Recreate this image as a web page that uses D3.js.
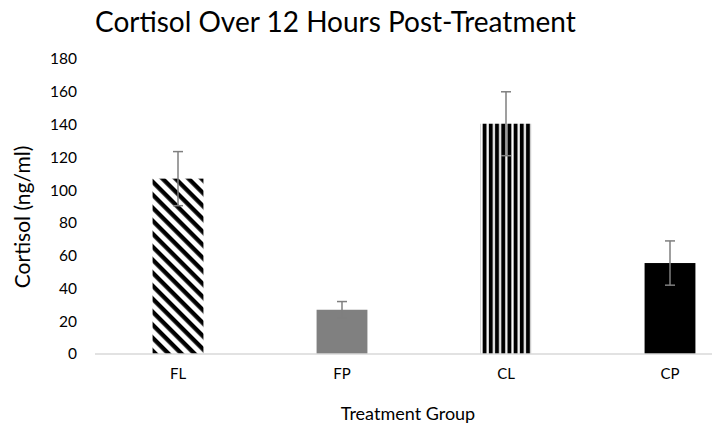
<!DOCTYPE html>
<html>
<head>
<meta charset="utf-8">
<script src="https://cdn.jsdelivr.net/npm/d3@7"></script>
<style>
  html, body { margin: 0; padding: 0; background: #fff; }
  svg { display: block; font-family: Lato, "Open Sans", sans-serif; }
</style>
</head>
<body>
<svg id="chart" width="712" height="425"></svg>
<script>
// Mean cortisol per treatment group, with error bar half-widths
const groups = ["FL", "FP", "CL", "CP"];
const cortisol = [107, 27, 140.5, 55.5];
const errors = [16.5, 5, 19.5, 13.5];
const yTicks = [0, 20, 40, 60, 80, 100, 120, 140, 160, 180];
const fills = ["url(#diag)", "#808080", "url(#vert)", "#000000"];

const svg = d3.select("#chart");

const x = d3.scaleBand().domain(groups).range([96, 752]).paddingInner(0.69).paddingOuter(0.345);
const y = d3.scaleLinear().domain([0, 180]).range([354, 59]);

// fill patterns
const defs = svg.append("defs");
const diag = defs.append("pattern")
  .attr("id", "diag").attr("patternUnits", "userSpaceOnUse")
  .attr("width", 9.2).attr("height", 9.2)
  .attr("patternTransform", "rotate(45)");
diag.append("rect").attr("width", 9.2).attr("height", 9.2).attr("fill", "#fff");
diag.append("rect").attr("x", 0).attr("y", 0).attr("width", 9.2).attr("height", 4.3).attr("fill", "#000");

const vert = defs.append("pattern")
  .attr("id", "vert").attr("patternUnits", "userSpaceOnUse")
  .attr("width", 6.2).attr("height", 10).attr("x", 481);
vert.append("rect").attr("width", 6.2).attr("height", 10).attr("fill", "#fff");
vert.append("rect").attr("x", 1.6).attr("width", 4).attr("height", 10).attr("fill", "#000");

// title
svg.append("text")
  .attr("x", 95).attr("y", 32)
  .attr("font-size", 28).attr("fill", "#000")
  .text("Cortisol Over 12 Hours Post-Treatment");

// y axis (labels only)
const yAxis = d3.axisLeft(y).tickValues(yTicks).tickSize(0).tickPadding(0);
const ya = svg.append("g").attr("transform", "translate(77,0)").call(yAxis);
ya.select(".domain").remove();
ya.selectAll("text").attr("font-size", 15.5).attr("fill", "#000")
  .attr("font-family", "Lato, sans-serif");

// bars
svg.append("g").selectAll("rect").data(groups).join("rect")
  .attr("x", d => x(d))
  .attr("width", x.bandwidth())
  .attr("y", (d, i) => y(cortisol[i]))
  .attr("height", (d, i) => y(0) - y(cortisol[i]))
  .attr("fill", (d, i) => fills[i]);

// x axis baseline and category labels
const xAxis = d3.axisBottom(x).tickSize(0).tickPadding(14);
const xa = svg.append("g").attr("transform", `translate(0,${y(0)})`).call(xAxis);
xa.select(".domain").attr("stroke", "#d9d9d9").attr("stroke-width", 1.5)
  .attr("d", `M95,0H712`);
xa.selectAll("text").attr("font-size", 15).attr("fill", "#000")
  .attr("font-family", "Lato, sans-serif");

// error bars
const eb = svg.append("g").attr("stroke", "#7f7f7f").attr("stroke-width", 1.5);
groups.forEach((g, i) => {
  const cx = x(g) + x.bandwidth() / 2;
  const hi = y(cortisol[i] + errors[i]), lo = y(cortisol[i] - errors[i]);
  eb.append("line").attr("x1", cx).attr("x2", cx).attr("y1", hi).attr("y2", lo);
  eb.append("line").attr("x1", cx - 5).attr("x2", cx + 5).attr("y1", hi).attr("y2", hi);
  eb.append("line").attr("x1", cx - 5).attr("x2", cx + 5).attr("y1", lo).attr("y2", lo);
});

// axis titles
svg.append("text")
  .attr("x", 408).attr("y", 420).attr("text-anchor", "middle")
  .attr("font-size", 18).attr("fill", "#000")
  .text("Treatment Group");
svg.append("text")
  .attr("transform", "translate(30,217) rotate(-90)")
  .attr("text-anchor", "middle")
  .attr("font-size", 21).attr("fill", "#000")
  .text("Cortisol (ng/ml)");
</script>
</body>
</html>
